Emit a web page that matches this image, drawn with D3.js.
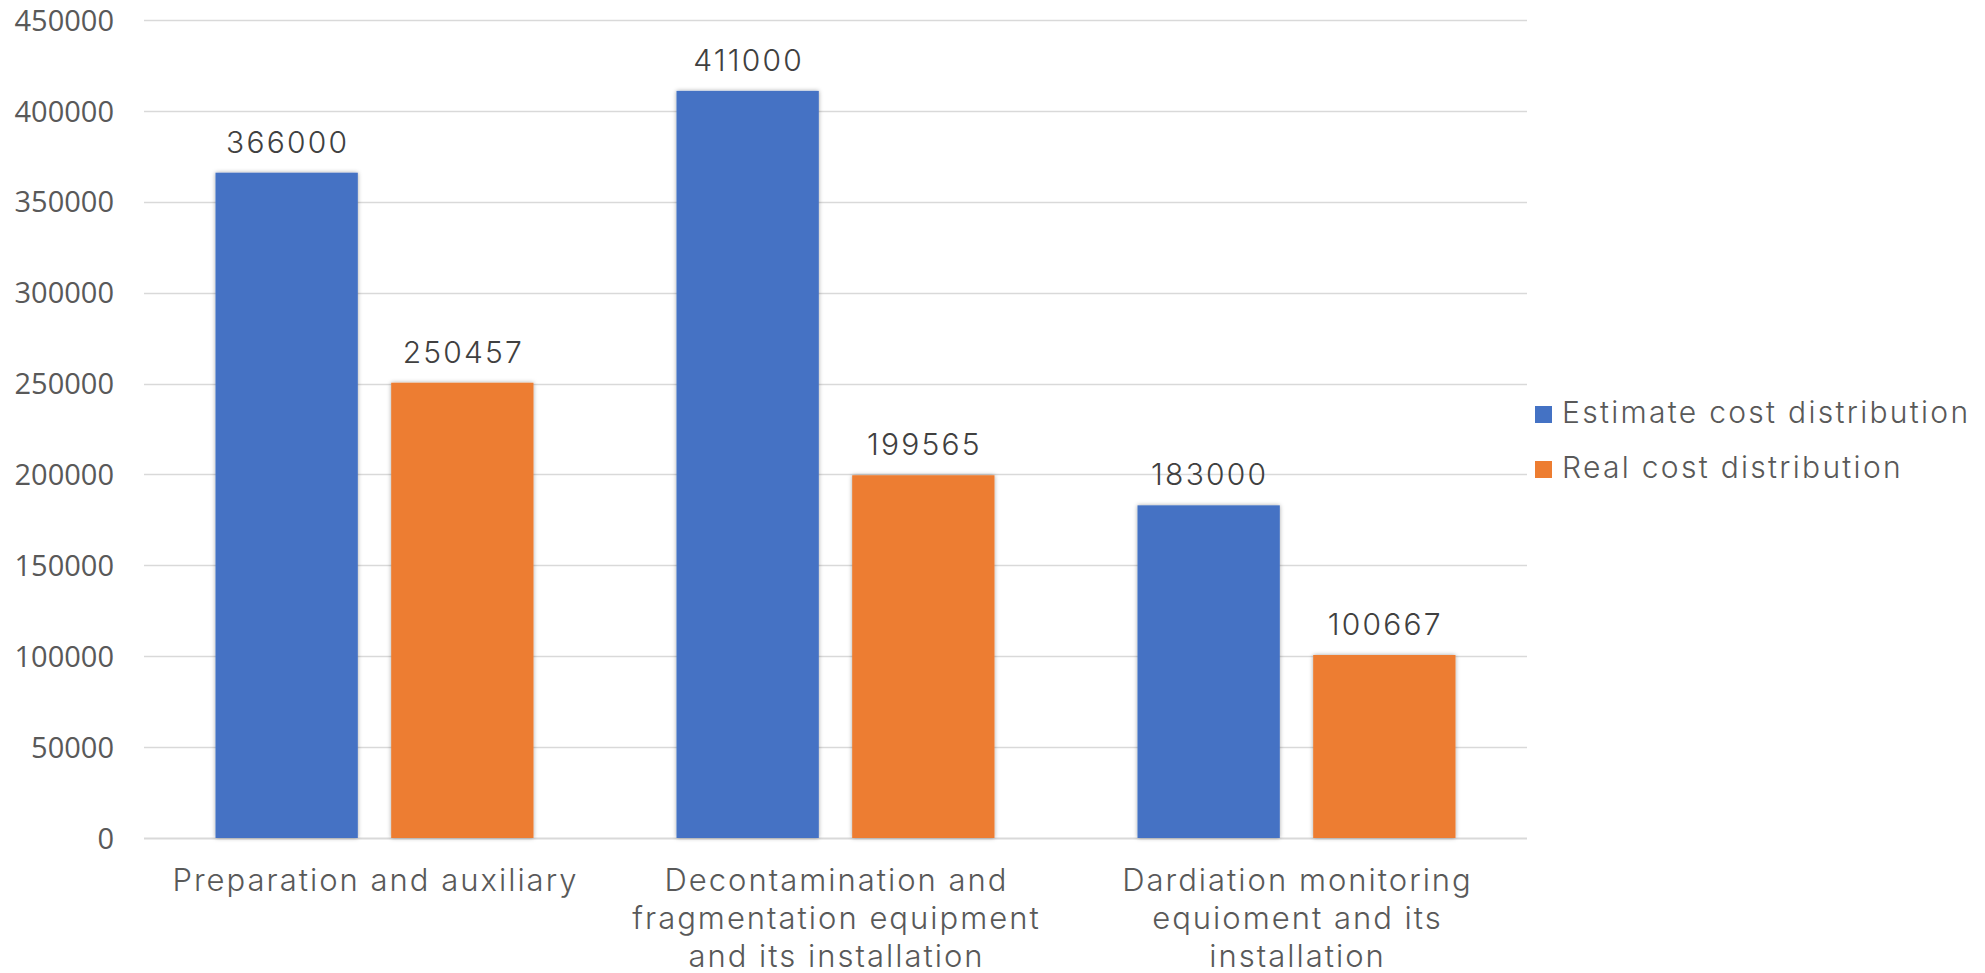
<!DOCTYPE html>
<html>
<head>
<meta charset="utf-8">
<script src="https://cdn.jsdelivr.net/npm/d3@7"></script>
<style>
  html, body { margin: 0; padding: 0; background: #ffffff; }
  svg { display: block; }
</style>
</head>
<body>
<svg id="chart" width="1985" height="973"></svg>
<script>
// Cost categories (x axis), each label split into its display lines
const categories = [
  "Preparation and auxiliary",
  "Decontamination and fragmentation equipment and its installation",
  "Dardiation monitoring equioment and its installation"
];
const categoryLines = [
  ["Preparation and auxiliary"],
  ["Decontamination and", "fragmentation equipment", "and its installation"],
  ["Dardiation monitoring", "equioment and its", "installation"]
];
const seriesNames = ["Estimate cost distribution", "Real cost distribution"];
const estimateCost = [366000, 411000, 183000];
const realCost = [250457, 199565, 100667];
const yTicks = [0, 50000, 100000, 150000, 200000, 250000, 300000, 350000, 400000, 450000];
const colors = ["#4472C4", "#ED7D31"];

const svg = d3.select("#chart");
const plot = { left: 144, right: 1527, top: 20, bottom: 838 };
const lightFont = "Inter, sans-serif";

const y = d3.scaleLinear().domain([0, 450000]).range([plot.bottom, plot.top]);
const x0 = d3.scaleBand().domain(categories).range([plot.left, plot.right]).padding(0);
const x1 = d3.scaleBand().domain(seriesNames).range([0, x0.bandwidth()])
  .paddingInner(0.19).paddingOuter(0.407);

const defs = svg.append("defs");
const shadow = defs.append("filter").attr("id", "barShadow")
  .attr("x", "-10%").attr("y", "-5%").attr("width", "120%").attr("height", "110%");
shadow.append("feDropShadow").attr("dx", 0).attr("dy", 0)
  .attr("stdDeviation", 2.2).attr("flood-color", "#000").attr("flood-opacity", 0.35);

// Horizontal gridlines
svg.append("g")
  .selectAll("line")
  .data(yTicks)
  .join("line")
  .attr("x1", plot.left).attr("x2", plot.right)
  .attr("y1", d => Math.round(y(d)) + 0.5).attr("y2", d => Math.round(y(d)) + 0.5)
  .attr("stroke", "#D9D9D9")
  .attr("stroke-width", d => d === 0 ? 2 : 1.4);

// Y axis tick labels
const yAxis = d3.axisLeft(y).tickValues(yTicks).tickSize(0).tickPadding(0).tickFormat(d3.format("d"));
const yg = svg.append("g").attr("transform", `translate(114,0)`).call(yAxis);
yg.select(".domain").remove();
yg.selectAll("text")
  .attr("font-family", "'Open Sans', sans-serif")
  .attr("font-size", 29)
  .attr("fill", "#595959")
  .attr("dy", "0.35em");

// Bars
const rows = categories.map((c, i) => ({ cat: c, vals: [estimateCost[i], realCost[i]] }));
const groups = svg.append("g").selectAll("g")
  .data(rows).join("g")
  .attr("transform", d => `translate(${x0(d.cat)},0)`);

groups.selectAll("rect")
  .data(d => d.vals.map((v, k) => ({ name: seriesNames[k], v, k })))
  .join("rect")
  .attr("x", d => x1(d.name))
  .attr("width", x1.bandwidth())
  .attr("y", d => y(d.v))
  .attr("height", d => y(0) - y(d.v))
  .attr("fill", d => colors[d.k])
  .attr("filter", "url(#barShadow)");

// Value labels above bars
groups.selectAll("text.val")
  .data(d => d.vals.map((v, k) => ({ name: seriesNames[k], v, k })))
  .join("text")
  .attr("class", "val")
  .attr("x", d => x1(d.name) + x1.bandwidth() / 2)
  .attr("dx", 1)
  .attr("y", d => y(d.v) - 20)
  .attr("text-anchor", "middle")
  .attr("font-family", lightFont)
  .attr("font-weight", 300)
  .attr("font-size", 30)
  .attr("letter-spacing", 2.2)
  .attr("fill", "#404040")
  .text(d => d.v);

// Category labels
const xg = svg.append("g");
categories.forEach((c, i) => {
  const cx = x0(c) + x0.bandwidth() / 2 + 1;
  const t = xg.append("text")
    .attr("y", 891)
    .attr("text-anchor", "middle")
    .attr("font-family", lightFont)
    .attr("font-weight", 300)
    .attr("font-size", 31)
    .attr("letter-spacing", 2)
    .attr("fill", "#595959");
  categoryLines[i].forEach((line, j) => {
    t.append("tspan")
      .attr("x", cx)
      .attr("dy", j === 0 ? 0 : 38)
      .text(line);
  });
});

// Legend
const legend = svg.append("g").attr("transform", "translate(1535,0)");
seriesNames.forEach((name, k) => {
  const baseY = 423 + k * 55;
  legend.append("rect")
    .attr("x", 0).attr("y", baseY - 17)
    .attr("width", 17).attr("height", 17)
    .attr("fill", colors[k]);
  legend.append("text")
    .attr("x", 27).attr("y", baseY)
    .attr("font-family", lightFont)
    .attr("font-weight", 300)
    .attr("font-size", 30)
    .attr("letter-spacing", 2.3)
    .attr("fill", "#595959")
    .text(name);
});
</script>
</body>
</html>
